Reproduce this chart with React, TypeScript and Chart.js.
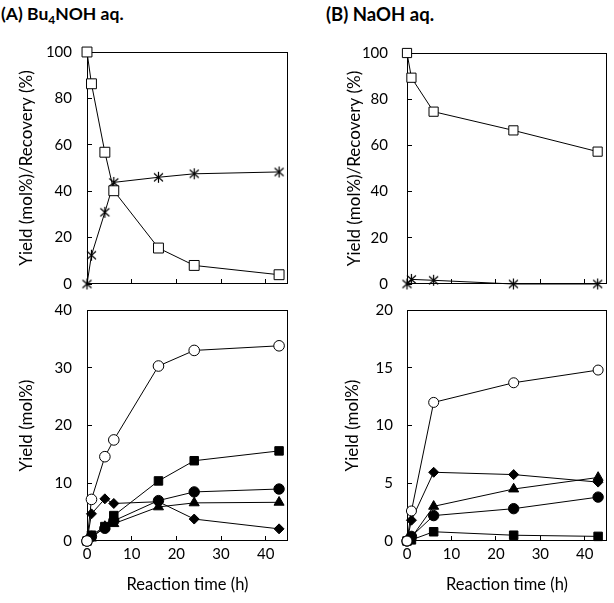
import React, { useEffect, useRef } from 'react';
import { Chart, registerables } from 'chart.js';
Chart.register(...registerables);

const FONT = 'Lato';

// ---- Panel A: Bu4NOH aq. ----
const timesA = [0, 1, 4, 6, 16, 24, 43];
const recoveryA = [100, 86.3, 56.8, 40.2, 15.5, 8.0, 4.0];
const asteriskA = [0, 12.4, 30.9, 43.8, 46.0, 47.5, 48.3];
const openCircleA = [0, 7.2, 14.6, 17.5, 30.3, 33.0, 33.8];
const squareA = [0, 1.0, 2.5, 4.4, 10.4, 13.9, 15.6];
const circleA = [0, 0.8, 2.2, 3.5, 7.0, 8.5, 9.0];
const triangleA = [0, 0.5, 2.5, 3.0, 5.9, 6.6, 6.7];
const diamondA = [0, 4.7, 7.3, 6.5, 6.8, 3.8, 2.1];

// ---- Panel B: NaOH aq. ----
const timesB = [0, 1, 6, 24, 43];
const recoveryB = [100, 89.3, 74.6, 66.5, 57.3];
const asteriskB = [0, 2.0, 1.6, 0, 0];
const openCircleB = [0, 2.6, 12.0, 13.7, 14.8];
const diamondB = [0, 1.8, 5.95, 5.75, 5.1];
const triangleB = [0, 0.3, 3.0, 4.5, 5.5];
const circleB = [0, 0.4, 2.2, 2.8, 3.8];
const squareB = [0, 0.1, 0.8, 0.5, 0.4];

const xTickValues = [0, 10, 20, 30, 40];
const xMax = 45;
const xTitle = 'Reaction time (h)';
const yTitleTop = 'Yield (mol%)/Recovery (%)';
const yTitleBottom = 'Yield (mol%)';

function makeAsterisk(): HTMLCanvasElement {
  const c = document.createElement('canvas');
  c.width = 13;
  c.height = 13;
  const g = c.getContext('2d')!;
  g.strokeStyle = '#000';
  g.lineWidth = 1.2;
  g.beginPath();
  g.moveTo(2, 2.5);
  g.lineTo(11, 10.5);
  g.moveTo(11, 2.5);
  g.lineTo(2, 10.5);
  g.moveTo(6.5, 1);
  g.lineTo(6.5, 12);
  g.stroke();
  return c;
}

function series(times: number[], values: number[], style: any, radius: number, filled: boolean) {
  return {
    data: times.map((t, i) => ({ x: t, y: values[i] })),
    showLine: true,
    borderColor: '#000',
    borderWidth: 1,
    pointStyle: style,
    pointRadius: radius,
    pointHoverRadius: radius,
    pointBackgroundColor: filled ? '#000' : '#fff',
    pointBorderColor: '#000',
    pointBorderWidth: 1,
    clip: false,
  };
}

const boxPlugin = {
  id: 'box',
  beforeDatasetsDraw(chart: any) {
    const { ctx, chartArea } = chart;
    ctx.save();
    ctx.strokeStyle = '#000';
    ctx.lineWidth = 1;
    const l = Math.round(chartArea.left) + 0.5;
    const t = Math.round(chartArea.top) + 0.5;
    const r = Math.round(chartArea.right) - 0.5;
    const b = Math.round(chartArea.bottom) - 0.5;
    ctx.strokeRect(l, t, r - l, b - t);
    ctx.restore();
  },
};

type Spec = {
  left: number; top: number; width: number; height: number;
  padTop: number; padRight: number; padBottom: number;
  yWidth: number; xHeight: number;
  yMax: number; yStep: number;
  yTitle: string; yTitlePad: number; yTickPad: number;
  showX: boolean;
  datasets: any[];
};

function Panel({ spec }: { spec: Spec }) {
  const ref = useRef<HTMLCanvasElement>(null);
  useEffect(() => {
    const chart = new Chart(ref.current!, {
      type: 'scatter',
      data: { datasets: spec.datasets },
      plugins: [boxPlugin],
      options: {
        animation: false,
        responsive: false,
        events: [],
        layout: { padding: { top: spec.padTop, right: spec.padRight, bottom: spec.padBottom, left: 0 } },
        plugins: { legend: { display: false }, tooltip: { enabled: false } },
        scales: {
          x: {
            type: 'linear',
            min: 0,
            max: xMax,
            afterBuildTicks: (s: any) => {
              s.ticks = xTickValues.map((v) => ({ value: v }));
            },
            afterFit: (s: any) => {
              s.height = spec.xHeight;
              s.paddingLeft = 0;
              s.paddingRight = 0;
            },
            ticks: {
              display: spec.showX,
              stepSize: 10,
              padding: 9.5,
              color: '#000',
              maxRotation: 0,
              font: { family: FONT, size: 15 },
            },
            grid: { drawOnChartArea: false, drawTicks: true, tickLength: -5, color: '#000' },
            border: { display: false },
            title: {
              display: spec.showX,
              text: xTitle,
              color: '#000',
              font: { family: FONT, size: 16.5 },
              padding: { top: 0, bottom: 8 },
            },
          },
          y: {
            type: 'linear',
            min: 0,
            max: spec.yMax,
            afterFit: (s: any) => {
              s.width = spec.yWidth;
              s.paddingTop = 0;
              s.paddingBottom = 0;
            },
            ticks: {
              stepSize: spec.yStep,
              padding: spec.yTickPad,
              color: '#000',
              font: { family: FONT, size: 15 },
            },
            grid: { drawOnChartArea: false, drawTicks: true, tickLength: -5, color: '#000' },
            border: { display: false },
            title: {
              display: true,
              text: spec.yTitle,
              color: '#000',
              font: { family: FONT, size: 17 },
              padding: { top: spec.yTitlePad, bottom: 0 },
            },
          },
        },
      } as any,
    });
    return () => chart.destroy();
  }, []);
  return (
    <canvas
      ref={ref}
      width={spec.width}
      height={spec.height}
      style={{ position: 'absolute', left: spec.left, top: spec.top, width: spec.width, height: spec.height }}
    />
  );
}

export default function App() {
  const ast = makeAsterisk();
  // y-title centre = yTitlePad + lineHeight/2 (17*1.2/2 = 10.2)
  const specs: Spec[] = [
    {
      left: 0, top: 36, width: 300, height: 256,
      padTop: 16, padRight: 12, padBottom: 8, yWidth: 87, xHeight: 0,
      yMax: 100, yStep: 20, yTitle: yTitleTop, yTitlePad: 16.8, yTickPad: 20, showX: false,
      datasets: [
        series(timesA, recoveryA, 'rect', 7, false),
        series(timesA, asteriskA, ast, 6, false),
      ],
    },
    {
      left: 300, top: 36, width: 314, height: 256,
      padTop: 17, padRight: 3, padBottom: 8, yWidth: 107, xHeight: 0,
      yMax: 100, yStep: 20, yTitle: yTitleTop, yTitlePad: 44.8, yTickPad: 24, showX: false,
      datasets: [
        series(timesB, recoveryB, 'rect', 6.5, false),
        series(timesB, asteriskB, ast, 6, false),
      ],
    },
    {
      left: 0, top: 290, width: 300, height: 313,
      padTop: 20, padRight: 12, padBottom: 0, yWidth: 87, xHeight: 62,
      yMax: 40, yStep: 10, yTitle: yTitleBottom, yTitlePad: 16.8, yTickPad: 20, showX: true,
      datasets: [
        series(timesA, openCircleA, 'circle', 5.3, false),
        series(timesA, squareA, 'rect', 6, true),
        series(timesA, circleA, 'circle', 5.2, true),
        series(timesA, triangleA, 'triangle', 5.8, true),
        series(timesA, diamondA, 'rectRot', 5, true),
      ],
    },
    {
      left: 300, top: 290, width: 314, height: 313,
      padTop: 20, padRight: 3, padBottom: 0, yWidth: 107, xHeight: 62,
      yMax: 20, yStep: 5, yTitle: yTitleBottom, yTitlePad: 42.8, yTickPad: 19, showX: true,
      datasets: [
        series(timesB, openCircleB, 'circle', 5, false),
        series(timesB, diamondB, 'rectRot', 5, true),
        series(timesB, triangleB, 'triangle', 5.8, true),
        series(timesB, circleB, 'circle', 5.2, true),
        series(timesB, squareB, 'rect', 6, true),
      ],
    },
  ];
  const titleStyle: React.CSSProperties = {
    position: 'absolute', top: 3, fontFamily: FONT, fontWeight: 'bold',
    color: '#000', whiteSpace: 'nowrap', lineHeight: '22px',
  };
  return (
    <div style={{ position: 'absolute', left: 0, top: 0, width: 614, height: 603, background: '#fff' }}>
      <div style={{ ...titleStyle, left: 1, fontSize: 17.5 }}>
        (A) Bu<sub style={{ fontSize: 12, verticalAlign: -4, lineHeight: 0 }}>4</sub>NOH aq.
      </div>
      <div style={{ ...titleStyle, left: 326, fontSize: 18.5 }}>(B) NaOH aq.</div>
      {specs.map((s, i) => (
        <Panel key={i} spec={s} />
      ))}
    </div>
  );
}
